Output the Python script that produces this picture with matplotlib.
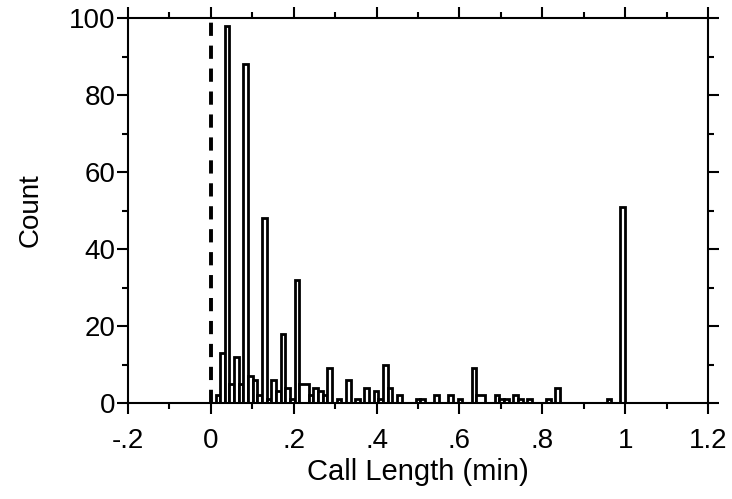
import matplotlib
matplotlib.use("Agg")
import matplotlib.pyplot as plt
import numpy as np
from matplotlib.ticker import MultipleLocator, FixedLocator

plt.rcParams['font.family'] = ['Liberation Sans', 'DejaVu Sans']

# Histogram data: bins on a regular grid of width 1/89 min starting at 0
bin_width = 1.0 / 89
bin_index = [1, 2, 3, 4, 5, 6, 7, 8, 9, 10, 11, 12, 13, 14, 15, 16, 17, 18, 19,
             21, 22, 23, 24, 25, 27, 29, 31, 33, 35, 36, 37, 38, 40, 44, 45, 48,
             51, 53, 56, 57, 61, 62, 63, 65, 66, 68, 72, 74, 85, 88]
bin_span = [1, 1, 1, 1, 1, 1, 1, 1, 1, 1, 1, 1, 1, 1, 1, 1, 1, 1, 2,
            1, 1, 1, 1, 1, 1, 1, 1, 1, 1, 1, 1, 1, 1, 1, 1, 1,
            1, 1, 1, 2, 1, 1, 1, 1, 1, 1, 1, 1, 1, 1]
counts = [2, 13, 98, 5, 12, 5, 88, 7, 6, 2, 48, 1, 6, 3, 18, 4, 1, 32, 5,
          2, 4, 3, 2, 9, 1, 6, 1, 4, 3, 1, 10, 4, 2, 1, 1, 2,
          2, 1, 9, 2, 2, 1, 1, 2, 1, 1, 1, 4, 1, 51]

x_ticks = [-0.2, 0, 0.2, 0.4, 0.6, 0.8, 1.0, 1.2]
x_tick_labels = ['-.2', '0', '.2', '.4', '.6', '.8', '1', '1.2']
y_ticks = [0, 20, 40, 60, 80, 100]
ref_line_x = 0.0

fig = plt.figure(figsize=(7.32, 4.99), dpi=100)
ax = fig.add_axes([128/732, 1 - 403/499, (708-128)/732, (403-18)/499])

lefts = np.array(bin_index) * bin_width
widths = np.array(bin_span) * bin_width
ax.bar(lefts, counts, width=widths, align='edge', facecolor='white',
       edgecolor='black', linewidth=2.0, zorder=2)

lw = 2.8
ax.axvline(ref_line_x, color='black', linewidth=lw,
           linestyle=(0, (3.4, 2.5)), zorder=3)

ax.set_xlim(-0.2, 1.2)
ax.set_ylim(0, 100)
ax.xaxis.set_major_locator(FixedLocator(x_ticks))
ax.set_xticklabels(x_tick_labels)
ax.xaxis.set_minor_locator(MultipleLocator(0.1))
ax.yaxis.set_major_locator(FixedLocator(y_ticks))
ax.yaxis.set_minor_locator(MultipleLocator(10))

for s in ax.spines.values():
    s.set_linewidth(1.5)
    s.set_zorder(4)

ax.tick_params(which='both', direction='out', top=True, right=True,
               width=1.5, labelsize=20)
ax.tick_params(which='major', length=8)
ax.tick_params(which='minor', length=4.5)
ax.tick_params(axis='x', which='major', pad=10)
ax.tick_params(axis='y', which='major', pad=1)

ax.set_xlabel('Call Length (min)', fontsize=21, labelpad=3)
ax.set_ylabel('Count', fontsize=20, labelpad=18)

fig.savefig('out.png', dpi=100)
